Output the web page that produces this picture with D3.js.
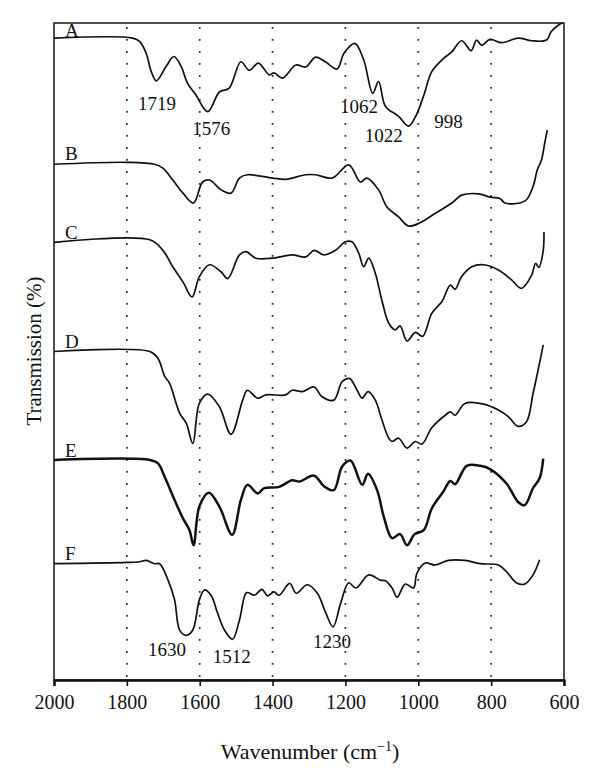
<!DOCTYPE html>
<html>
<head>
<meta charset="utf-8">
<script src="https://cdn.jsdelivr.net/npm/d3@7"></script>
<style>
  body { margin: 0; background: #fff; }
  text { font-family: "Liberation Serif", "DejaVu Serif", serif; fill: #111; }
</style>
</head>
<body>
<svg width="600" height="770"></svg>
<script>

// spectra: [wavenumber, transmission] (curves are offset, arbitrary units)
var seriesA = [[2000,97.7],[1784,97.7],[1765,97.2],[1747,95.4],[1733,92.6],[1719,91.2],[1692,93.4],[1671,94.9],[1651,93.4],
  [1634,90.9],[1610,89.0],[1578,86.5],[1546,89.5],[1519,90.1],[1487,94.1],[1464,92.8],[1439,93.9],[1409,92.1],[1396,92.4],
  [1373,91.6],[1336,93.6],[1309,93.3],[1282,94.8],[1255,94.1],[1223,93.0],[1204,95.4],[1174,96.9],[1150,94.4],[1125,89.3],
  [1109,91.1],[1090,87.3],[1054,85.8],[1027,84.3],[1008,85.7],[986,88.8],[963,92.6],[935,94.4],[908,95.6],[881,97.3],
  [855,95.8],[840,97.4],[826,96.6],[803,97.5],[771,97.0],[726,97.7],[689,97.3],[648,97.4],[635,98.7],[612,99.8],[604,100]];

var seriesB = [[2000,78.5],[1801,78.8],[1724,78.5],[1701,77.9],[1674,76.1],[1646,74.1],[1617,72.6],[1592,75.8],[1573,76.1],
  [1541,74.6],[1514,74.1],[1491,76.4],[1469,76.9],[1400,76.4],[1364,76.2],[1309,76.9],[1282,76.9],[1236,76.4],[1191,78.4],
  [1159,75.8],[1141,76.4],[1109,74.6],[1086,72.0],[1054,70.5],[1027,69.1],[995,69.6],[954,71.0],[908,72.6],[881,73.8],
  [835,74.0],[803,73.5],[776,73.3],[762,72.6],[721,72.6],[703,73.1],[685,75.1],[673,77.7],[662,79.1],[653,81.7],[646,83.7]];

var seriesC = [[2000,66.6],[1737,67.0],[1701,65.4],[1674,62.9],[1646,60.6],[1621,58.3],[1601,61.4],[1573,63.2],[1541,62.1],
  [1523,61.1],[1491,64.7],[1473,65.2],[1446,64.2],[1400,64.2],[1346,64.7],[1309,64.4],[1286,65.4],[1259,64.7],[1227,65.4],
  [1200,66.7],[1182,66.7],[1163,64.9],[1150,62.9],[1136,64.2],[1118,61.9],[1100,57.8],[1081,54.3],[1063,53.3],[1050,53.9],
  [1031,51.6],[1008,52.9],[988,52.3],[963,55.8],[935,57.6],[912,60.1],[899,59.5],[881,61.4],[853,62.9],[821,63.2],
  [780,62.4],[744,60.9],[717,59.6],[689,61.6],[678,63.4],[669,62.8],[657,65.4],[655,68.2]];

var seriesD = [[2000,50.0],[1737,50.0],[1715,49.0],[1696,46.2],[1683,45.2],[1655,40.6],[1637,39.1],[1619,36.0],[1601,42.1],
  [1578,43.5],[1546,41.6],[1514,37.4],[1482,42.6],[1469,44.1],[1441,42.9],[1418,43.4],[1364,43.4],[1346,44.1],[1318,43.9],
  [1286,44.6],[1264,43.1],[1232,42.6],[1209,45.4],[1189,45.9],[1168,44.1],[1154,42.9],[1138,43.9],[1118,42.6],[1100,39.6],
  [1081,36.8],[1072,36.3],[1054,36.8],[1031,35.3],[1008,36.3],[990,35.9],[963,38.4],[926,40.3],[912,40.8],[899,40.3],
  [872,42.1],[821,42.0],[780,41.1],[753,40.1],[726,38.6],[703,39.3],[685,43.6],[671,47.2],[657,51.0]];

var seriesE = [[2000,33.5],[1737,33.5],[1715,33.0],[1696,30.9],[1669,27.4],[1646,24.6],[1628,22.8],[1617,20.5],[1601,26.4],
  [1575,28.5],[1546,26.4],[1511,22.1],[1487,27.4],[1469,29.7],[1441,28.4],[1423,29.2],[1382,29.4],[1346,30.4],[1327,30.2],
  [1286,31.1],[1259,29.5],[1232,28.9],[1209,32.5],[1186,33.4],[1154,29.7],[1138,31.4],[1113,28.9],[1095,24.9],[1072,21.6],
  [1050,22.2],[1031,20.5],[1010,22.2],[985,22.8],[963,26.1],[931,28.7],[912,30.3],[899,29.8],[867,32.6],[830,32.6],
  [803,32.1],[758,29.9],[726,27.1],[708,26.6],[685,29.2],[667,30.7],[657,33.7]];

var seriesF = [[2000,17.7],[1801,17.9],[1765,18.0],[1747,18.2],[1724,17.7],[1710,17.7],[1687,15.2],[1669,12.2],[1655,7.6],
  [1637,6.8],[1619,7.6],[1601,12.2],[1587,13.7],[1569,12.9],[1551,10.2],[1532,7.6],[1510,6.2],[1491,9.1],[1471,13.3],
  [1450,12.9],[1429,13.8],[1414,12.8],[1396,13.4],[1382,12.9],[1353,14.7],[1335,13.2],[1305,14.5],[1277,13.2],[1254,10.2],
  [1234,8.1],[1213,11.7],[1191,14.8],[1171,14.0],[1136,16.0],[1104,15.2],[1090,15.1],[1072,14.0],[1058,12.6],[1036,14.6],
  [1013,14.0],[1004,16.2],[981,17.8],[954,17.5],[917,18.2],[872,18.2],[830,17.7],[780,17.5],[758,16.5],[731,14.8],
  [708,14.6],[685,16.0],[667,18.3]];

var seriesNames = ['A', 'B', 'C', 'D', 'E', 'F'];
var nameLabels = [97.9, 79.1, 67.1, 50.5, 33.9, 18.3];   // label baseline per curve

var xTicks = [2000, 1800, 1600, 1400, 1200, 1000, 800, 600];
var gridLines = [1800, 1600, 1400, 1200, 1000, 800];

// peak annotations: [text, wavenumber, transmission]
var peakLabels = [['1719',1717,86.8],['1576',1568,83.0],['1062',1163,86.3],['1022',1095,81.9],['998',917,84.0],
  ['1630',1690,3.65],['1512',1512,2.6],['1230',1237,4.9]];

window.onload = function(){

  var svg = d3.select('svg');
  var left = 54, right = 564, top = 23, bottom = 680;

  var x = d3.scaleLinear().domain([2000, 600]).range([left, right]);
  var y = d3.scaleLinear().domain([0, 100]).range([bottom, top]);

  // dotted verticals
  svg.selectAll('line.grid')
     .data(gridLines)
     .enter()
     .append('line')
       .attr('class', 'grid')
       .attr('x1', function(d){ return x(d) })
       .attr('x2', function(d){ return x(d) })
       .attr('y1', top + 4)
       .attr('y2', bottom - 2)
       .style('stroke', '#222')
       .style('stroke-width', 1.7)
       .style('stroke-dasharray', '1.7,10.3');

  // frame
  svg.append('rect')
     .attr('x', left).attr('y', top)
     .attr('width', right - left).attr('height', bottom - top)
     .style('fill', 'none')
     .style('stroke', '#222')
     .style('stroke-width', 1.6);

  // bottom axis
  var xAxis = d3.axisBottom(x).tickValues(xTicks).tickFormat(d3.format('d')).tickSize(6).tickPadding(9);
  var gx = svg.append('g')
              .attr('transform', 'translate(0,' + bottom + ')')
              .call(xAxis);
  gx.select('.domain').style('stroke', '#111').style('stroke-width', 2.4);
  gx.selectAll('.tick line').style('stroke', '#111').style('stroke-width', 1.6);
  gx.selectAll('.tick text')
    .style('font-family', '"Liberation Serif", serif')
    .style('font-size', '20px')
    .style('fill', '#111');

  // axis titles
  var xt = svg.append('text')
     .attr('x', (left + right) / 2 + 1)
     .attr('y', 759)
     .attr('text-anchor', 'middle')
     .style('font-size', '22px');
  xt.append('tspan').text('Wavenumber (cm');
  xt.append('tspan').attr('dy', -8).style('font-size', '14px').text('\u22121');
  xt.append('tspan').attr('dy', 8).text(')');

  svg.append('text')
     .attr('transform', 'translate(41,351) rotate(-90)')
     .attr('text-anchor', 'middle')
     .style('font-size', '21px')
     .text('Transmission (%)');

  // spectra
  var line = d3.line()
               .x(function(d){ return x(d[0]) })
               .y(function(d){ return y(d[1]) })
               .curve(d3.curveCatmullRom.alpha(0.5));

  var allSeries = [seriesA, seriesB, seriesC, seriesD, seriesE, seriesF];

  svg.selectAll('path.spec')
     .data(allSeries)
     .enter()
     .append('path')
       .attr('class', 'spec')
       .attr('d', line)
       .style('fill', 'none')
       .style('stroke', '#111')
       .style('stroke-linejoin', 'round')
       .style('stroke-width', function(d, i){ return i == 4 ? 2.5 : 1.7 });

  svg.selectAll('text.name')
     .data(seriesNames)
     .enter()
     .append('text')
       .attr('class', 'name')
       .attr('x', x(1970))
       .attr('y', function(d, i){ return y(nameLabels[i]) })
       .style('font-size', '19px')
       .text(function(d){ return d });

  svg.selectAll('text.peak')
     .data(peakLabels)
     .enter()
     .append('text')
       .attr('class', 'peak')
       .attr('x', function(d){ return x(d[1]) })
       .attr('y', function(d){ return y(d[2]) })
       .attr('text-anchor', 'middle')
       .style('font-size', '19px')
       .text(function(d){ return d[0] });

}
</script>
</body>
</html>
